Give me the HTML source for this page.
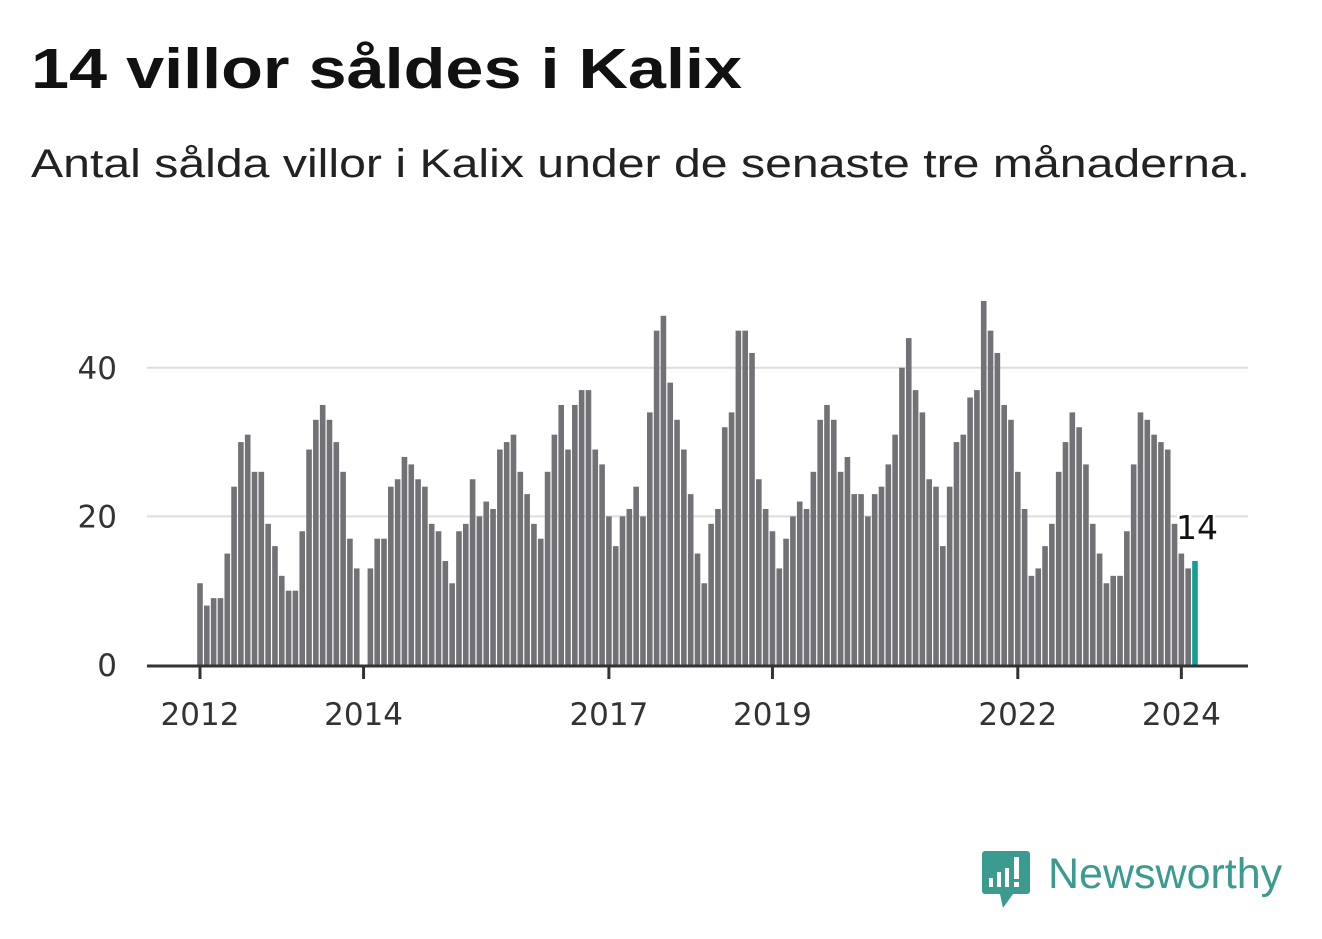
<!DOCTYPE html>
<html><head><meta charset="utf-8"><style>
body{margin:0;background:#fff;width:1322px;height:939px;overflow:hidden;font-family:"Liberation Sans","DejaVu Sans",sans-serif;}
#title{position:absolute;left:31px;top:36px;font-size:57px;font-weight:bold;color:#111;margin:0;transform:scaleX(1.2);transform-origin:0 0;white-space:nowrap;}
#sub{position:absolute;left:31px;top:142px;font-size:40px;color:#222;transform:scaleX(1.205);transform-origin:0 0;white-space:nowrap;}
svg{position:absolute;left:0;top:0;}
</style></head><body>
<h1 id="title">14 villor såldes i Kalix</h1>
<div id="sub">Antal sålda villor i Kalix under de senaste tre månaderna.</div>
<svg id="chart" width="1322" height="939"></svg>
<script>
const values=[11,8,9,9,15,24,30,31,26,26,19,16,
12,10,10,18,29,33,35,33,30,26,17,13,
0,13,17,17,24,25,28,27,25,24,19,18,
14,11,18,19,25,20,22,21,29,30,31,26,
23,19,17,26,31,35,29,35,37,37,29,27,
20,16,20,21,24,20,34,45,47,38,33,29,
23,15,11,19,21,32,34,45,45,42,25,21,
18,13,17,20,22,21,26,33,35,33,26,28,
23,23,20,23,24,27,31,40,44,37,34,25,
24,16,24,30,31,36,37,49,45,42,35,33,
26,21,12,13,16,19,26,30,34,32,27,19,
15,11,12,12,18,27,34,33,31,30,29,19,
15,13,14];
const startYear=2012;
const yTicks=[0,20,40];
const xTickYears=[2012,2014,2017,2019,2022,2024];
const ns="http://www.w3.org/2000/svg";
const svg=document.getElementById('chart');
const x0=200,pxMonth=6.815,y0=665,pxUnit=7.43;
const xs=i=>x0+i*pxMonth;
const ys=v=>y0-v*pxUnit;
function mk(t,a){const e=document.createElementNS(ns,t);for(const k in a)e.setAttribute(k,a[k]);svg.appendChild(e);return e;}
yTicks.forEach(t=>{
  if(t>0){const g=mk('line',{x1:147,x2:1248,y1:ys(t),y2:ys(t),stroke:'#ddd','stroke-width':2});
  
  }
  const l=mk('text',{x:117,y:ys(t)+11,'text-anchor':'end','font-size':31,fill:'#333','font-family':'DejaVu Sans, sans-serif'});
  l.textContent=t;
  
  
});
values.forEach((v,i)=>{
  const last=i===values.length-1;
  const r=mk('rect',{x:xs(i)-2.8,y:ys(v),width:5.6,height:v*pxUnit,fill:last?'#139e96':'#727176'});
  
  
});
const ax=mk('line',{x1:147,x2:1248,y1:y0+1,y2:y0+1,stroke:'#333','stroke-width':3});


xTickYears.forEach(yr=>{
  const x=xs((yr-startYear)*12);
  const t=mk('line',{x1:x,x2:x,y1:y0,y2:y0+14,stroke:'#333','stroke-width':3});
  
  
  const l=mk('text',{x:x,y:725,'text-anchor':'middle','font-size':31,fill:'#333','font-family':'DejaVu Sans, sans-serif'});
  l.textContent=yr;
  
  
});
const li=values.length-1;
const lbl=mk('text',{x:xs(li)+2,y:ys(values[li])-22,'text-anchor':'middle','font-size':33,fill:'#111',stroke:'#fff','stroke-width':5,'paint-order':'stroke','font-family':'DejaVu Sans, sans-serif'});
lbl.textContent=values[li];


</script>
<svg width="1322" height="939" style="pointer-events:none">
  <path d="M985 851 h42 a3 3 0 0 1 3 3 v37 a3 3 0 0 1 -3 3 h-14 l-10 14 l-3 -14 h-15 a3 3 0 0 1 -3 -3 v-37 a3 3 0 0 1 3 -3z" fill="#3a9b8e"/>
  <rect x="989" y="878" width="4" height="9" fill="#fff"/>
  <rect x="997" y="872" width="4" height="15" fill="#fff"/>
  <rect x="1005" y="868" width="4" height="19" fill="#fff"/>
  <rect x="1014" y="857" width="5" height="22" fill="#fff"/>
  <rect x="1014" y="882" width="5" height="5" fill="#fff"/>
  <text x="1048" y="888" font-size="43" fill="#3a9b8e" font-family="Liberation Sans, sans-serif">Newsworthy</text>
</svg>
</body></html>
